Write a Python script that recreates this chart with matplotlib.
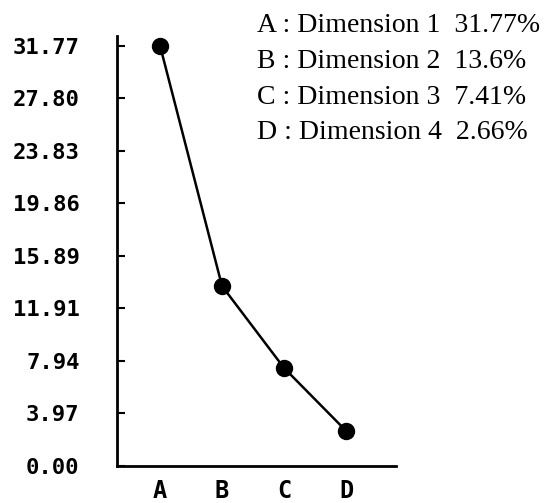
import matplotlib
matplotlib.use('Agg')
import matplotlib.pyplot as plt

# datos del grafico
dims = ['A', 'B', 'C', 'D']
values = [31.77, 13.6, 7.41, 2.66]
ytick_vals = [0.00, 3.97, 7.94, 11.91, 15.89, 19.86, 23.83, 27.80, 31.77]
ytick_labels = ['0.00', '3.97', '7.94', '11.91', '15.89', '19.86', '23.83', '27.80', '31.77']
legend_lines = ['A : Dimension 1  31.77%',
                'B : Dimension 2  13.6%',
                'C : Dimension 3  7.41%',
                'D : Dimension 4  2.66%']

fig = plt.figure(figsize=(5.58, 5.03), dpi=100)
ax = fig.add_axes([117 / 558, 37 / 503, (396 - 117) / 558, (466 - 36) / 503])

x = list(range(len(dims)))
ax.plot(x, values, color='black', lw=1.8, marker='o', markersize=11.5,
        markerfacecolor='black', markeredgecolor='black', clip_on=False)

ax.set_xlim(-0.694, 3.806)
ax.set_ylim(0, 32.5)

ax.spines['top'].set_visible(False)
ax.spines['right'].set_visible(False)
ax.spines['left'].set_linewidth(2)
ax.spines['bottom'].set_linewidth(2)

ax.set_yticks(ytick_vals)
ax.set_yticklabels(ytick_labels, family='DejaVu Sans Mono', fontweight='bold', fontsize=16)
ax.tick_params(axis='y', direction='in', length=6, width=1.5, pad=27)

ax.set_xticks(x)
ax.set_xticklabels(dims, family='DejaVu Sans Mono', fontweight='bold', fontsize=17)
ax.tick_params(axis='x', length=0, pad=9)

ys = [25, 61, 97, 133]
for line, yp in zip(legend_lines, ys):
    fig.text(257 / 558, 1 - yp / 503, line, family='Liberation Serif',
             fontsize=20, va='center', ha='left')

fig.savefig('out.png', dpi=100, facecolor='white')
